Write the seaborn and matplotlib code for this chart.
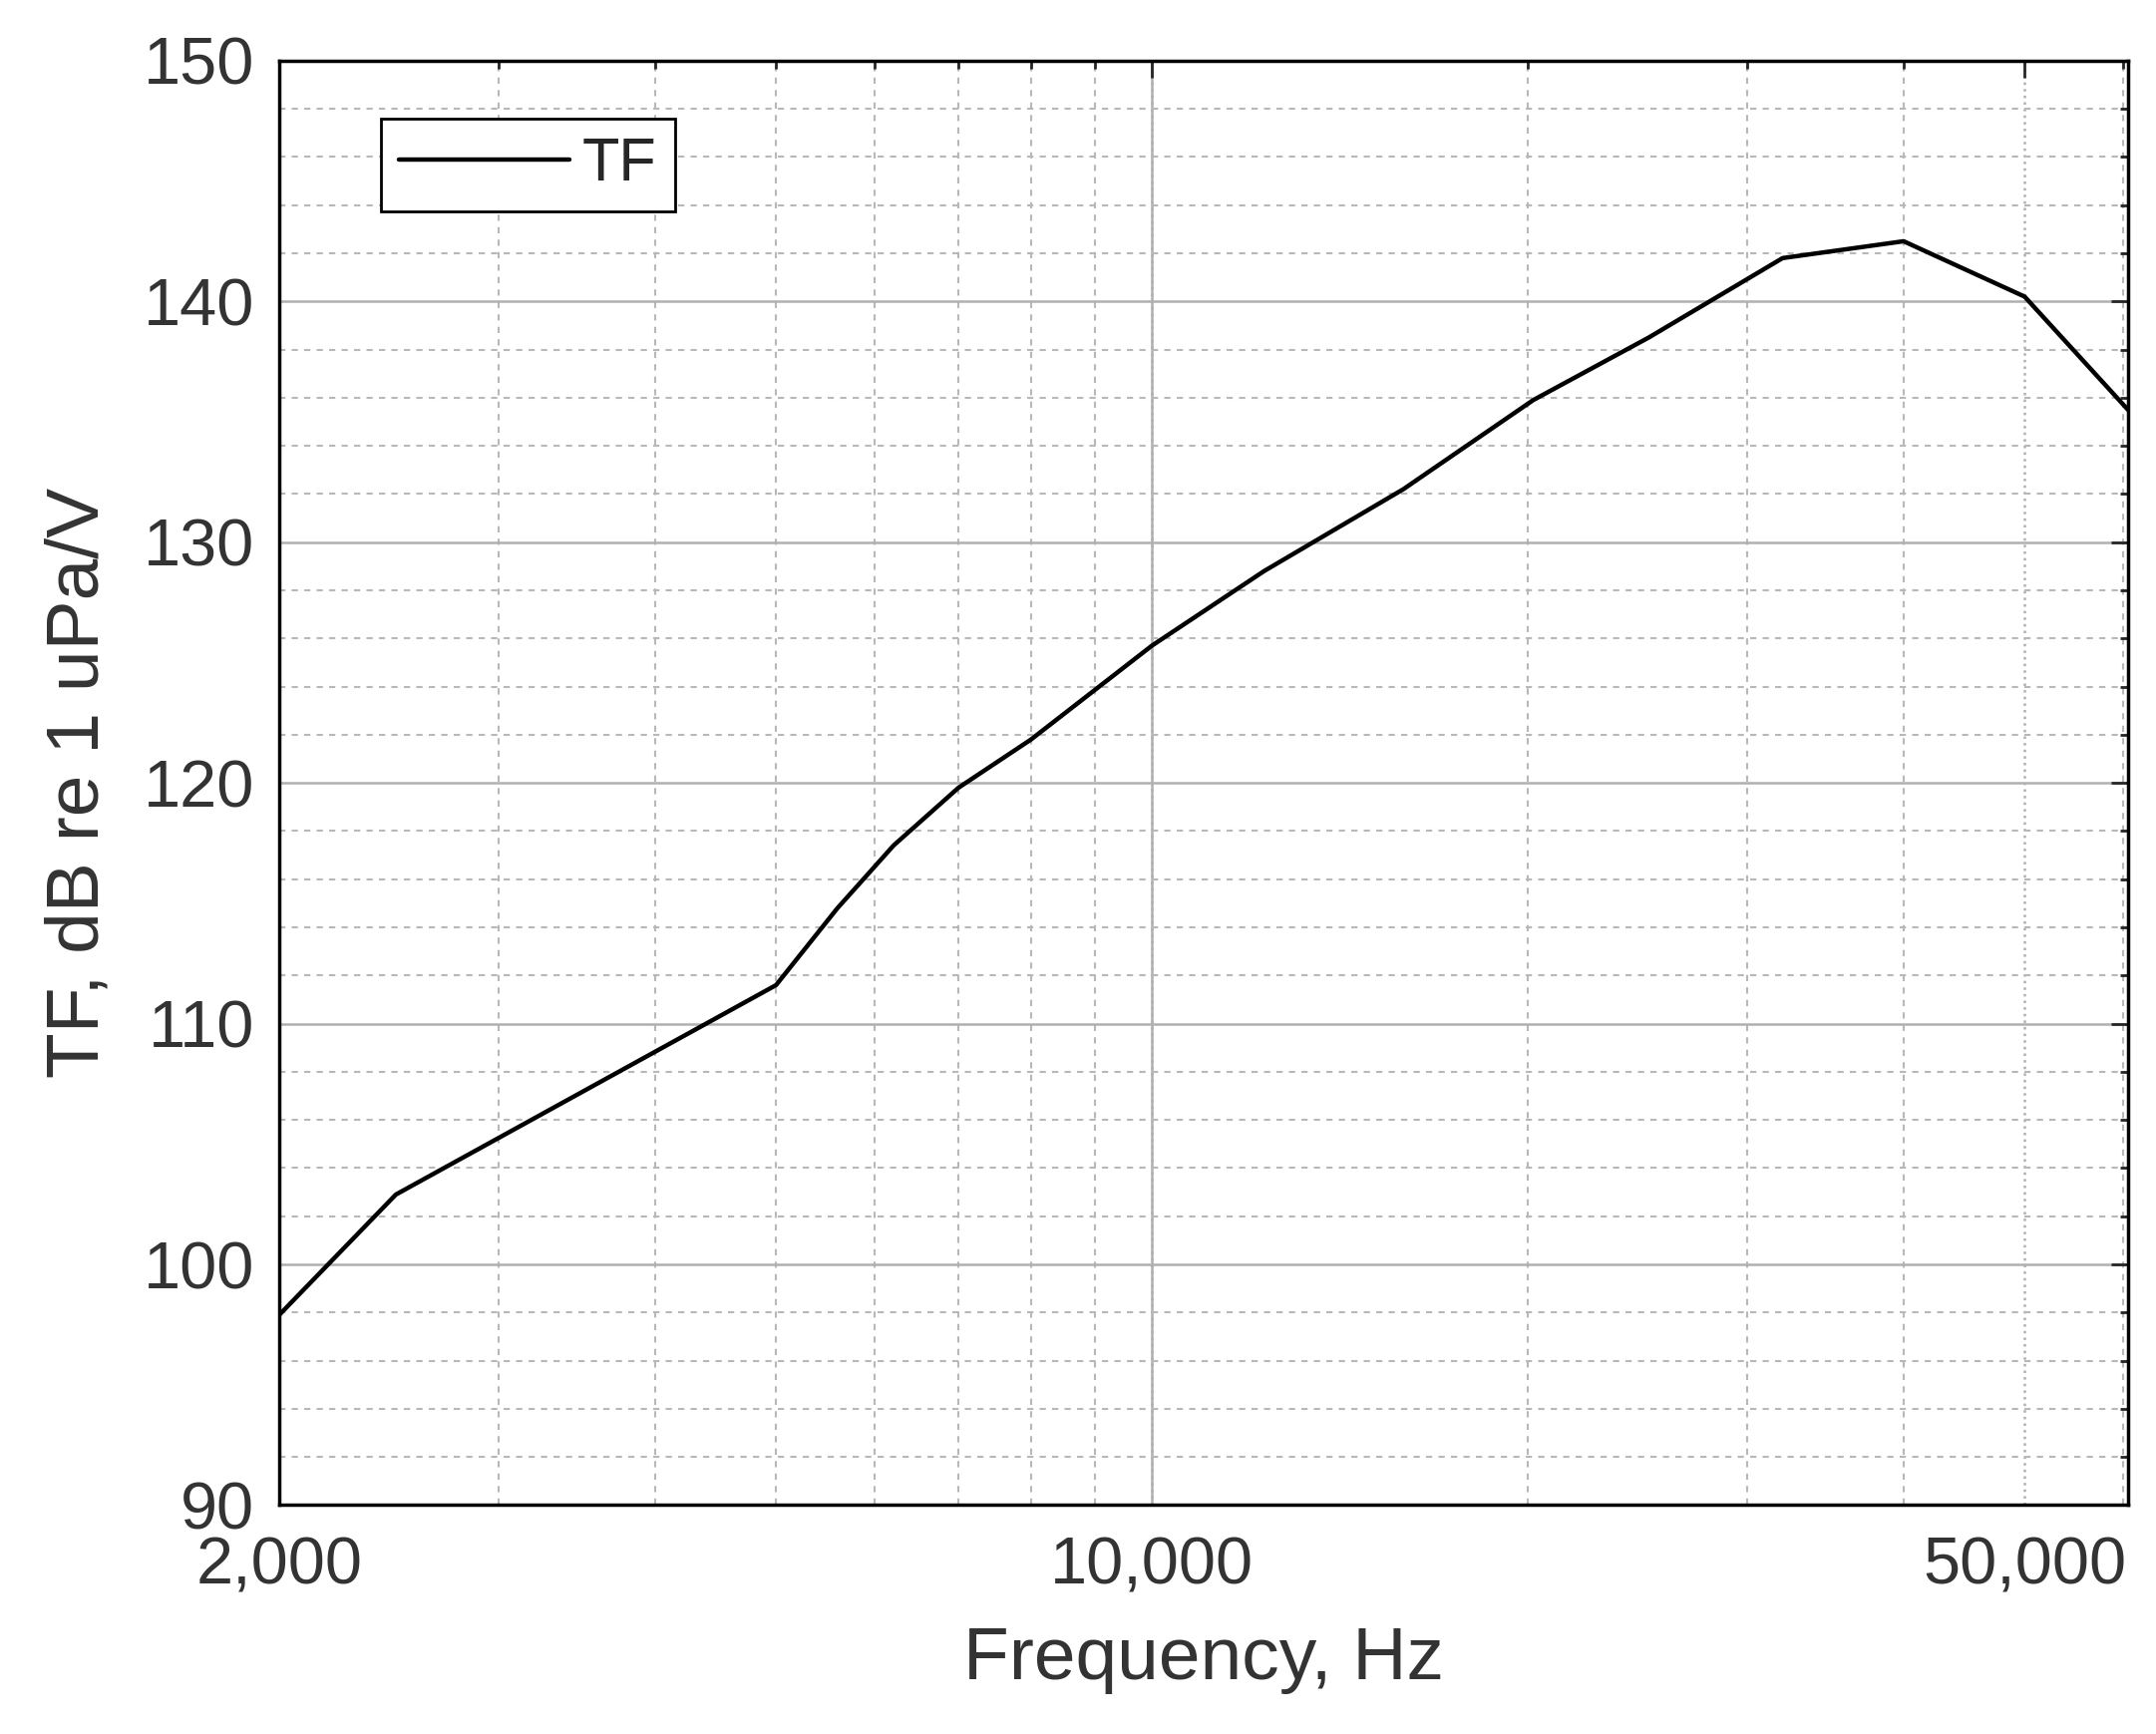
import matplotlib
matplotlib.use("Agg")
import matplotlib.pyplot as plt
import matplotlib.ticker as mticker
import pandas as pd
import seaborn as sns

freq_hz = [2000, 2480, 5000, 5600, 6210, 7000, 8000, 10000, 12300, 15900, 20200, 25000, 32000, 40000, 50000, 60500]
tf_db = [97.9, 102.9, 111.6, 114.8, 117.4, 119.8, 121.8, 125.7, 128.8, 132.2, 135.9, 138.5, 141.8, 142.5, 140.2, 135.5]

sns.set_style("white")
plt.rcParams["font.family"] = ["Liberation Sans", "DejaVu Sans"]

df = pd.DataFrame({"Frequency": freq_hz, "TF": tf_db})

fig = plt.figure(figsize=(21.62, 17.39), dpi=100)
ax = fig.add_axes([0.1295, 0.132, 0.8575, 0.833])
sns.lineplot(data=df, x="Frequency", y="TF", color="black", linewidth=3.2, label="TF", ax=ax)

ax.set_xscale("log")
ax.set_xlim(2000, 60500)
ax.set_ylim(90, 150)
ax.xaxis.set_major_locator(mticker.FixedLocator([2000, 10000, 50000]))
ax.xaxis.set_major_formatter(mticker.FuncFormatter(lambda v, p: f"{int(v):,}"))
ax.xaxis.set_minor_locator(mticker.LogLocator(base=10, subs=range(1, 10)))
ax.xaxis.set_minor_formatter(mticker.NullFormatter())
ax.yaxis.set_major_locator(mticker.MultipleLocator(10))
ax.yaxis.set_minor_locator(mticker.MultipleLocator(2))

ax.grid(which="major", axis="y", color="#b0b0b0", linestyle="-", linewidth=1.8)
ax.grid(which="major", axis="x", color="#b0b0b0", linestyle=":", linewidth=1.8)
ax.grid(which="minor", color="#b8b8b8", linestyle=(0, (3, 3)), linewidth=1.5)
ax.axvline(10000, color="#b0b0b0", linewidth=1.8, zorder=0)

ax.tick_params(which="both", direction="in", top=True, right=True, labelsize=48, width=2)
ax.tick_params(which="major", length=12)
ax.tick_params(which="minor", length=6)
ax.tick_params(axis="x", which="major", pad=22)
ax.tick_params(axis="y", which="major", pad=18)
for s in ax.spines.values():
    s.set_linewidth(2.5)
    s.set_color("black")

ax.set_xlabel("Frequency, Hz", fontsize=54, color="#333333", labelpad=20)
ax.set_ylabel("TF, dB re 1 uPa/V", fontsize=54, color="#333333", labelpad=22)
for t in ax.get_xticklabels() + ax.get_yticklabels():
    t.set_color("#333333")

leg = ax.legend(loc="upper left", bbox_to_anchor=(0.055, 0.96), fontsize=44, fancybox=False,
                framealpha=1, edgecolor="black", borderpad=0.3, handlelength=2.8,
                handletextpad=0.2, borderaxespad=0)
leg.get_frame().set_linewidth(2)

fig.savefig("out.png", dpi=100)
